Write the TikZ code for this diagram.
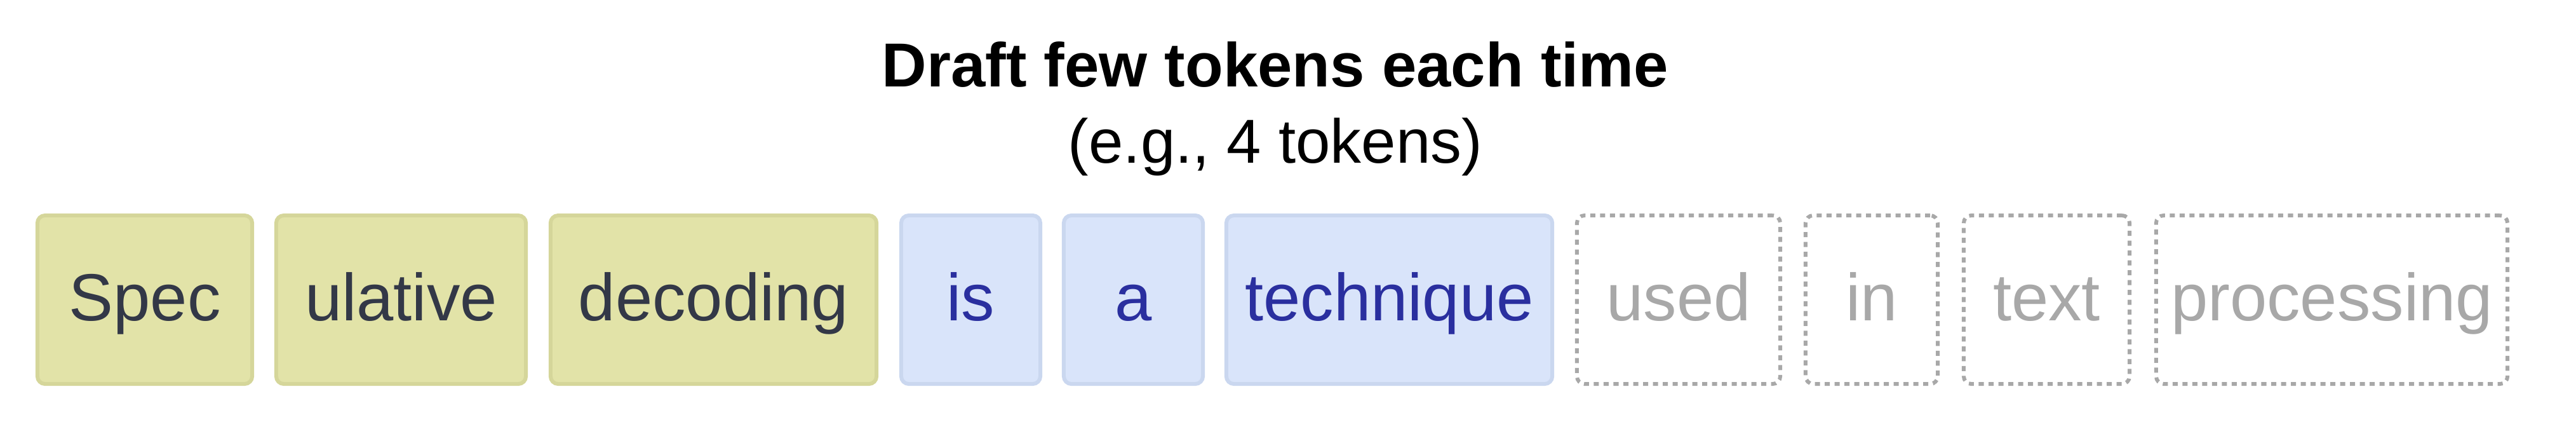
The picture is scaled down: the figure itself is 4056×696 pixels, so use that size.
\documentclass[tikz,border=0pt]{standalone}
\usepackage{fontspec}
\setmainfont{Liberation Sans}
\definecolor{greenfill}{HTML}{E2E3A8}
\definecolor{greenline}{HTML}{D5D69A}
\definecolor{greentext}{HTML}{333847}
\definecolor{bluefill}{HTML}{D9E4FA}
\definecolor{blueline}{HTML}{CAD7EF}
\definecolor{bluetext}{HTML}{2A2F9F}
\definecolor{graytok}{HTML}{A8A8A8}
\tikzset{
  tok/.style={rectangle, rounded corners=0.12cm, line width=0.06cm, inner sep=0pt,
    minimum height=2.65cm, text height=0.76cm, text depth=0.11cm,
    font=\fontsize{29.8}{35}\selectfont},
  acc/.style={tok, fill=greenfill, draw=greenline, text=greentext},
  drf/.style={tok, fill=bluefill, draw=blueline, text=bluetext},
  fut/.style={tok, draw=graytok, text=graytok, dash pattern=on 0.08cm off 0.075cm},
  titletext/.style={anchor=base, inner sep=0pt, font=\fontsize{27.8}{33}\selectfont\bfseries},
  subtext/.style={anchor=base, inner sep=0pt, font=\fontsize{27.8}{33}\selectfont},
}
\begin{document}
\begin{tikzpicture}[x=0.01cm, y=-0.01cm]
\useasboundingbox (0,0) rectangle (4056,696);
\node[titletext] (title) at (2008,136) {Draft few tokens each time};
\node[subtext] (sub) at (2008,256) {(e.g., 4 tokens)};
\node[acc, minimum width=3.38cm] (t1) at (228,471.5) {Spec};
\node[acc, minimum width=3.93cm] (t2) at (631.5,471.5) {ulative};
\node[acc, minimum width=5.13cm] (t3) at (1123.5,471.5) {decoding};
\node[drf, minimum width=2.19cm] (t4) at (1528.5,471.5) {is};
\node[drf, minimum width=2.19cm] (t5) at (1784.5,471.5) {a};
\node[drf, minimum width=5.13cm] (t6) at (2187.5,471.5) {technique};
\node[fut, minimum width=3.20cm] (t7) at (2643,471.5) {used};
\node[fut, minimum width=2.08cm] (t8) at (2947,471.5) {in};
\node[fut, minimum width=2.61cm] (t9) at (3222.5,471.5) {text};
\node[fut, minimum width=5.53cm] (t10) at (3671.5,471.5) {processing};
\end{tikzpicture}
\end{document}
